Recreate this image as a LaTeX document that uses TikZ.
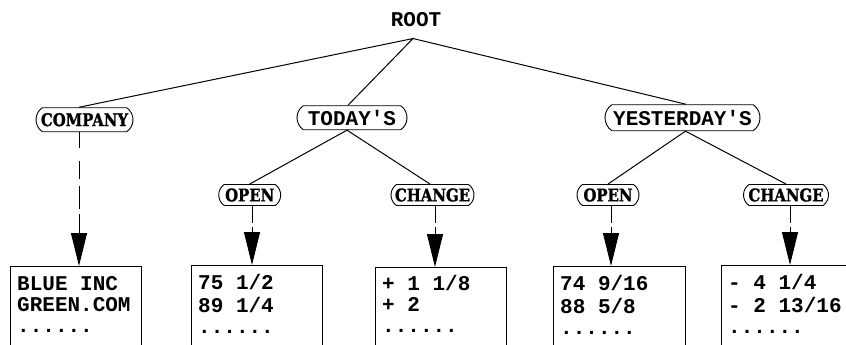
\documentclass[tikz,border=0pt]{standalone}
\usepackage{fontspec}
\newfontfamily\codefont{Liberation Mono}
\newfontfamily\tagfont[FakeStretch=0.85,FakeBold=1.2]{DejaVu Serif}
\usetikzlibrary{arrows.meta,shapes.misc}

\begin{document}
\begin{tikzpicture}[x=1pt,y=-1pt,
  every node/.style={inner sep=0pt},
  code/.style={font=\codefont\bfseries\fontsize{21}{21}\selectfont},
  tag/.style={font=\tagfont\bfseries\fontsize{17.5}{17.5}\selectfont},
  bubble/.style={draw, line width=0.9pt, rounded rectangle,
    rounded rectangle arc length=110, minimum height=#1},
  branch/.style={line width=1pt},
  feed/.style={line width=1pt, -{Triangle[length=33pt,width=16pt]},
    dash pattern=on 17pt off 4pt on 60pt},
  databox/.style={draw, line width=1pt, anchor=north west,
    minimum width=131pt, minimum height=110pt},
  listing/.style={code, align=left, anchor=north west}
]
\useasboundingbox (0,0) rectangle (846,345);

% root and first level
\node[code] (root) at (416,19.2) {ROOT};
\coordinate (fork) at ([shift={(-3,12)}]root.south);

\node[bubble=24pt, tag, minimum width=97pt] (company) at (84.5,119.7) {COMPANY};
\node[bubble=24pt, code, minimum width=110pt] (today) at (352,117.7) {TODAY'S};
\node[bubble=26pt, code, minimum width=155pt] (yesterday) at (682.5,117.7) {YESTERDAY'S};

% second level
\node[bubble=21pt, tag, minimum width=62pt] (open1) at (249.7,195) {OPEN};
\node[bubble=21pt, tag, minimum width=83pt] (change1) at (432.5,195) {CHANGE};
\node[bubble=21pt, tag, minimum width=62pt] (open2) at (608,195) {OPEN};
\node[bubble=21pt, tag, minimum width=85pt] (change2) at (786,195) {CHANGE};

\draw[branch] ([xshift=-5.5pt]company.north) -- (fork)
  -- ([xshift=-4pt]today.north);
\draw[branch] (fork) -- ([xshift=3.5pt]yesterday.north);
\draw[branch] (open1.north) -- ([xshift=-5pt]today.south)
  -- ([xshift=-2.5pt]change1.north);
\draw[branch] (open2.north) -- ([xshift=3pt]yesterday.south)
  -- (change2.north);

% data columns, open at the bottom
\node[databox] (box1) at (10,266) {};
\node[databox] (box2) at (191,265) {};
\node[databox] (box3) at (375,267) {};
\node[databox, minimum width=132pt] (box4) at (553,266) {};
\node[databox] (box5) at (721,265) {};

\node[listing] (list1) at ([shift={(7,9.3)}]box1.north west)
  {\strut BLUE INC\\\strut GREEN.COM\\\strut ......};
\node[listing] (list2) at ([shift={(7,9.3)}]box2.north west)
  {\strut 75 1/2\\\strut 89 1/4\\\strut ......};
\node[listing] (list3) at ([shift={(7,8.3)}]box3.north west)
  {\strut + 1 1/8\\\strut + 2\\\strut ......};
\node[listing] (list4) at ([shift={(7,9.3)}]box4.north west)
  {\strut 74 9/16\\\strut 88 5/8\\\strut ......};
\node[listing] (list5) at ([shift={(7,9.3)}]box5.north west)
  {\strut - 4 1/4\\\strut - 2 13/16\\\strut ......};

% pointers into the columns
\draw[feed, dash pattern=on 16pt off 13pt on 18pt off 7pt on 23pt off 5pt on 40pt]
  ([xshift=-5.5pt]company.south) -- ([xshift=-5.5pt]company.south |- box1.north);
\draw[feed] ([xshift=2.3pt]open1.south) -- ([xshift=2.3pt]open1.south |- box2.north);
\draw[feed] ([xshift=2.5pt]change1.south) -- ([xshift=2.5pt]change1.south |- box3.north);
\draw[feed] ([xshift=3pt]open2.south) -- ([xshift=3pt]open2.south |- box4.north);
\draw[feed] ([xshift=4pt]change2.south) -- ([xshift=4pt]change2.south |- box5.north);
\end{tikzpicture}
\end{document}
